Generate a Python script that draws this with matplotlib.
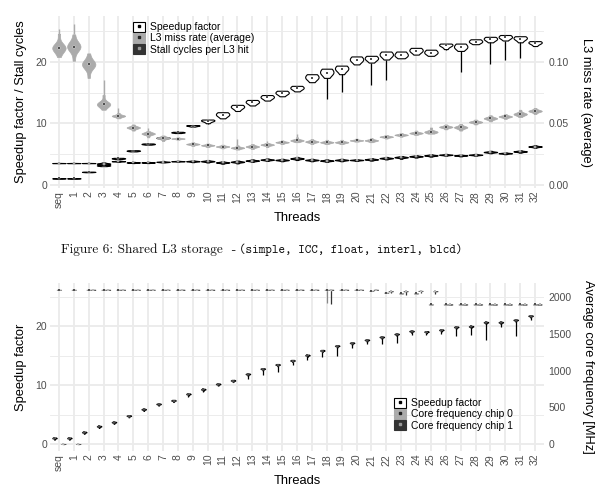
import numpy as np
import matplotlib
matplotlib.use('Agg')
import matplotlib.pyplot as plt
from matplotlib.patches import Patch
from matplotlib.lines import Line2D

plt.rcParams['font.family'] = ['Liberation Sans', 'DejaVu Sans']

threads = ['seq'] + [str(i) for i in range(1, 33)]

# ---------------- top panel data ----------------
top_speedup_med = [1.0, 1.0, 2.05, 3.1, 4.25, 5.5, 6.6, 7.6, 8.5, 9.6, 10.4, 11.35, 12.6, 13.4, 14.2, 14.9, 15.7,
                   17.4, 18.2, 18.8, 20.3, 20.5, 21.1, 21.1, 21.8, 21.5, 22.7, 22.4, 23.3, 23.7, 24.0, 23.8, 23.1]
top_speedup_lo = [0.97, 0.97, 2.0, 3.0, 4.15, 5.4, 6.5, 7.5, 8.4, 9.45, 10.0, 10.8, 12.0, 12.9, 13.7, 14.4, 15.2,
                  16.7, 17.4, 18.0, 19.6, 19.9, 20.4, 20.6, 21.2, 21.0, 22.1, 21.8, 22.9, 23.2, 23.5, 23.2, 22.6]
top_speedup_hi = [1.03, 1.03, 2.1, 3.2, 4.35, 5.6, 6.7, 7.7, 8.6, 9.7, 10.6, 11.8, 13.0, 13.8, 14.6, 15.3, 16.1,
                  18.0, 18.9, 19.4, 20.9, 21.0, 21.7, 21.7, 22.3, 22.0, 23.0, 23.0, 23.7, 24.1, 24.4, 24.2, 23.4]
top_speedup_min = [0.97, 0.97, 2.0, 3.0, 4.15, 5.4, 6.5, 7.5, 8.4, 9.45, 9.9, 10.8, 12.0, 12.9, 13.7, 14.4, 15.2,
                   16.7, 14.0, 15.1, 19.6, 16.2, 17.0, 20.6, 21.2, 21.0, 21.9, 18.4, 22.9, 19.7, 20.4, 20.7, 22.6]

miss_med = [0.1115, 0.1125, 0.098, 0.0655, 0.056, 0.0465, 0.0415, 0.038, 0.0375, 0.033, 0.032, 0.031, 0.030,
            0.031, 0.0325, 0.0345, 0.036, 0.035, 0.0345, 0.0345, 0.036, 0.036, 0.039, 0.0405, 0.042, 0.043,
            0.047, 0.0467, 0.051, 0.054, 0.0555, 0.0575, 0.060]
miss_lo = [0.104, 0.101, 0.087, 0.061, 0.054, 0.044, 0.0385, 0.0355, 0.0365, 0.0315, 0.0305, 0.0295, 0.0285,
           0.029, 0.0305, 0.033, 0.0345, 0.033, 0.033, 0.033, 0.035, 0.0345, 0.0375, 0.039, 0.0405, 0.0415,
           0.045, 0.044, 0.049, 0.0515, 0.0535, 0.055, 0.0575]
miss_hi = [0.123, 0.1225, 0.107, 0.073, 0.0585, 0.049, 0.0435, 0.040, 0.0385, 0.0345, 0.0335, 0.0325, 0.032,
           0.033, 0.034, 0.036, 0.0385, 0.037, 0.0365, 0.0365, 0.0375, 0.038, 0.0405, 0.042, 0.044, 0.0465,
           0.049, 0.0495, 0.053, 0.0565, 0.0575, 0.061, 0.0625]
miss_max = [0.1265, 0.131, 0.107, 0.085, 0.0625, 0.049, 0.0465, 0.040, 0.0385, 0.0345, 0.0335, 0.0325, 0.0375,
            0.033, 0.0355, 0.036, 0.041, 0.037, 0.0365, 0.0365, 0.0375, 0.038, 0.0405, 0.042, 0.044, 0.0465,
            0.049, 0.0495, 0.053, 0.0565, 0.0575, 0.061, 0.0625]

stall_med = [3.5, 3.5, 3.5, 3.4, 3.8, 3.6, 3.6, 3.7, 3.8, 3.8, 3.8, 3.6, 3.7, 3.9, 4.05, 4.0, 4.25, 4.0, 3.9,
             4.0, 4.0, 4.1, 4.3, 4.45, 4.6, 4.75, 4.85, 4.75, 4.85, 5.3, 5.1, 5.4, 6.2]
stall_lo = [3.47, 3.47, 3.47, 3.15, 3.7, 3.5, 3.5, 3.6, 3.72, 3.65, 3.6, 3.4, 3.45, 3.7, 3.85, 3.8, 4.0, 3.8,
            3.7, 3.8, 3.85, 3.9, 4.1, 4.2, 4.4, 4.55, 4.7, 4.6, 4.7, 5.1, 4.95, 5.2, 6.0]
stall_hi = [3.53, 3.53, 3.53, 3.6, 3.9, 3.7, 3.7, 3.85, 3.88, 3.95, 4.0, 3.8, 3.9, 4.1, 4.25, 4.2, 4.5, 4.2,
            4.1, 4.2, 4.15, 4.3, 4.5, 4.65, 4.8, 4.95, 5.0, 4.9, 5.0, 5.5, 5.25, 5.6, 6.4]

# ---------------- bottom panel data ----------------
bot_speedup_med = [1.0, 1.0, 2.0, 3.0, 3.7, 4.8, 5.9, 6.8, 7.4, 8.5, 9.3, 10.2, 10.8, 11.9, 12.8, 13.5, 14.2,
                   15.1, 15.9, 16.7, 17.2, 17.7, 18.2, 18.7, 19.2, 19.1, 19.4, 19.9, 20.0, 20.7, 20.7, 21.1, 21.8]
bot_speedup_min = [0.95, 0.95, 1.9, 2.9, 3.6, 4.7, 5.8, 6.6, 7.2, 8.0, 8.8, 10.0, 10.5, 11.1, 11.75, 12.3, 13.5,
                   14.3, 14.8, 14.9, 16.4, 17.1, 17.0, 17.15, 18.6, 18.5, 18.7, 18.45, 18.6, 17.7, 19.9, 18.3, 21.1]
chip0_mhz = [2100] * 21 + [2085, 2060, 2050, 2050, 1900] + [1900] * 7
chip0_min = [2100] * 18 + [1925, 2100, 2100] + [2085, 2060, 2050, 2050, 1900] + [1900] * 7
chip1_mhz = [0, 0] + [2100] * 20 + [2080, 2080, 2085, 2080] + [1900] * 7
chip1_min = [0, 0] + [2100] * 16 + [1900, 2100, 2100, 2100] + [2050, 2030, 2050, 2040] + [1900] * 7

MISS_SCALE = 200.0   # miss rate -> left axis units
FREQ_SCALE = 80.0    # MHz per left axis unit

W, H = 600, 493
fig = plt.figure(figsize=(W / 100, H / 100), dpi=100)

GRID = '#ebebeb'
TICKC = '#4d4d4d'
WHITE_FC, GREY_FC, DARK_FC = '#ffffff', '#ababab', '#333333'

x = np.arange(len(threads))


def px_axes(left, top, right, bottom):
    return fig.add_axes([left / W, 1 - bottom / H, (right - left) / W, (bottom - top) / H])


def violins(ax, med, lo, hi, pos, width, fc, ec, lw, zorder, weights=(1, 6, 1), bw=0.7):
    data = [np.array([l] * weights[0] + [m] * weights[1] + [h] * weights[2], dtype=float)
            for m, l, h in zip(med, lo, hi)]
    parts = ax.violinplot(data, positions=pos, widths=width, showmeans=False,
                          showextrema=False, showmedians=False, bw_method=bw, points=120)
    for b in parts['bodies']:
        b.set_facecolor(fc)
        b.set_edgecolor(ec)
        b.set_linewidth(lw)
        b.set_alpha(1)
        b.set_zorder(zorder)


def dots(ax, pos, med, c, zorder):
    ax.scatter(pos, med, marker='s', s=3.0, c=c, edgecolors='white', linewidths=0.25, zorder=zorder)


def style(ax, ylim):
    ax.set_xlim(-0.6, len(threads) - 0.4)
    ax.set_ylim(*ylim)
    for s in ax.spines.values():
        s.set_visible(False)
    ax.set_yticks([0, 10, 20])
    ax.set_yticks([5, 15, 25], minor=True)
    ax.set_xticks(x)
    ax.set_xticklabels(threads, rotation=90, fontsize=7.5, color=TICKC)
    ax.tick_params(axis='both', which='both', length=0, labelsize=7.5, labelcolor=TICKC)
    ax.tick_params(axis='x', pad=2)
    ax.tick_params(axis='y', pad=2)
    ax.grid(True, which='major', color=GRID, lw=1.3)
    ax.grid(True, which='minor', axis='y', color=GRID, lw=0.65)
    ax.set_axisbelow(True)
    ax.set_xlabel('Threads', fontsize=9.3, labelpad=3)


def legend(ax, labels, x0, y0):
    handles = []
    for fc, ec, dc in [(WHITE_FC, 'black', 'black'), (GREY_FC, GREY_FC, '#222222'), (DARK_FC, DARK_FC, '#9a9a9a')]:
        handles.append((Patch(facecolor=fc, edgecolor=ec, linewidth=0.8),
                        Line2D([], [], marker='s', ms=1.6, color=dc, ls='')))
    ax.legend(handles, labels, loc='upper left', bbox_to_anchor=(x0 / W, 1 - y0 / H),
              bbox_transform=fig.transFigure, frameon=False, fontsize=7.5, handlelength=1.15,
              handleheight=1.15, handletextpad=0.5, labelspacing=0.05, borderpad=0, borderaxespad=0)


# ---------------- top panel ----------------
ax1 = px_axes(50, 16, 544, 188)
style(ax1, (-0.57, 27.5))
violins(ax1, top_speedup_med, top_speedup_lo, top_speedup_hi, x, 0.9, WHITE_FC, 'black', 0.8, 2,
        weights=(1, 3, 2), bw=0.8)
ax1.vlines(x, top_speedup_min, top_speedup_lo, color='black', lw=0.9, zorder=2)
dots(ax1, x, top_speedup_med, 'black', 2.1)

mm = np.array(miss_med) * MISS_SCALE
violins(ax1, mm, np.array(miss_lo) * MISS_SCALE, np.array(miss_hi) * MISS_SCALE, x, 0.9, GREY_FC, GREY_FC, 0.5, 3)
ax1.vlines(x, np.array(miss_hi) * MISS_SCALE, np.array(miss_max) * MISS_SCALE, color=GREY_FC, lw=1.0, zorder=3)
dots(ax1, x, mm, 'black', 3.1)

violins(ax1, stall_med, stall_lo, stall_hi, x, 0.9, DARK_FC, 'black', 0.8, 4)
dots(ax1, x, stall_med, '#777777', 4.1)

ax1.set_ylabel('Speedup factor / Stall cycles', fontsize=9.3, labelpad=6)
sec1 = ax1.secondary_yaxis('right', functions=(lambda v: v / MISS_SCALE, lambda v: v * MISS_SCALE))
sec1.set_yticks([0.0, 0.05, 0.10])
sec1.set_yticklabels(['0.00', '0.05', '0.10'])
sec1.tick_params(length=0, labelsize=7.5, labelcolor=TICKC, pad=3)
for s in sec1.spines.values():
    s.set_visible(False)
sec1.set_ylabel('L3 miss rate (average)', fontsize=9.3, rotation=-90, va='bottom', labelpad=8)
legend(ax1, ['Speedup factor', 'L3 miss rate (average)', 'Stall cycles per L3 hit'], 133, 21.5)

# ---------------- caption ----------------
fig.text(236 / W, 1 - 250 / H, 'Figure 6: Shared L3 storage  -', family=['cmr10', 'DejaVu Serif'],
         fontsize=9.6, ha='right', va='center', color='#111111')
fig.text(239 / W, 1 - 250 / H, '(simple, ICC, float, interl, blcd)', family=['cmtt10', 'DejaVu Sans Mono'],
         fontsize=9, ha='left', va='center', color='#111111')

# ---------------- bottom panel ----------------
ax2 = px_axes(50, 283, 544, 451)
style(ax2, (-1.19, 27.4))
off = 0.3
bsm = np.array(bot_speedup_med)
violins(ax2, bsm, bsm - 0.25, bsm + 0.12, x - off, 0.3, WHITE_FC, 'black', 0.8, 2, weights=(1, 5, 2), bw=0.6)
ax2.vlines(x - off, bot_speedup_min, bsm, color='black', lw=0.9, zorder=2)
dots(ax2, x - off, bsm, 'black', 2.1)

c0 = np.array(chip0_mhz) / FREQ_SCALE
c0min = np.array(chip0_min) / FREQ_SCALE
violins(ax2, c0, c0 - 0.05, c0 + 0.05, x, 0.3, GREY_FC, '#888888', 0.6, 3)
ax2.vlines(x, c0min, c0, color='#888888', lw=0.9, zorder=3)
dots(ax2, x, c0, 'black', 3.1)

c1 = np.array(chip1_mhz) / FREQ_SCALE
c1min = np.array(chip1_min) / FREQ_SCALE
violins(ax2, c1, c1 - 0.05, c1 + 0.05, x + off, 0.3, DARK_FC, '#555555', 0.6, 4)
ax2.vlines(x + off, c1min, c1, color='#333333', lw=0.9, zorder=4)
dots(ax2, x + off, c1, '#999999', 4.1)

ax2.set_ylabel('Speedup factor', fontsize=9.3, labelpad=6)
sec2 = ax2.secondary_yaxis('right', functions=(lambda v: v * FREQ_SCALE, lambda v: v / FREQ_SCALE))
sec2.set_yticks([0, 500, 1000, 1500, 2000])
sec2.tick_params(length=0, labelsize=7.5, labelcolor=TICKC, pad=3)
for s in sec2.spines.values():
    s.set_visible(False)
sec2.set_ylabel('Average core frequency [MHz]', fontsize=9.3, rotation=-90, va='bottom', labelpad=8)
legend(ax2, ['Speedup factor', 'Core frequency chip 0', 'Core frequency chip 1'], 394, 397.5)

fig.savefig('out.png', dpi=100)
